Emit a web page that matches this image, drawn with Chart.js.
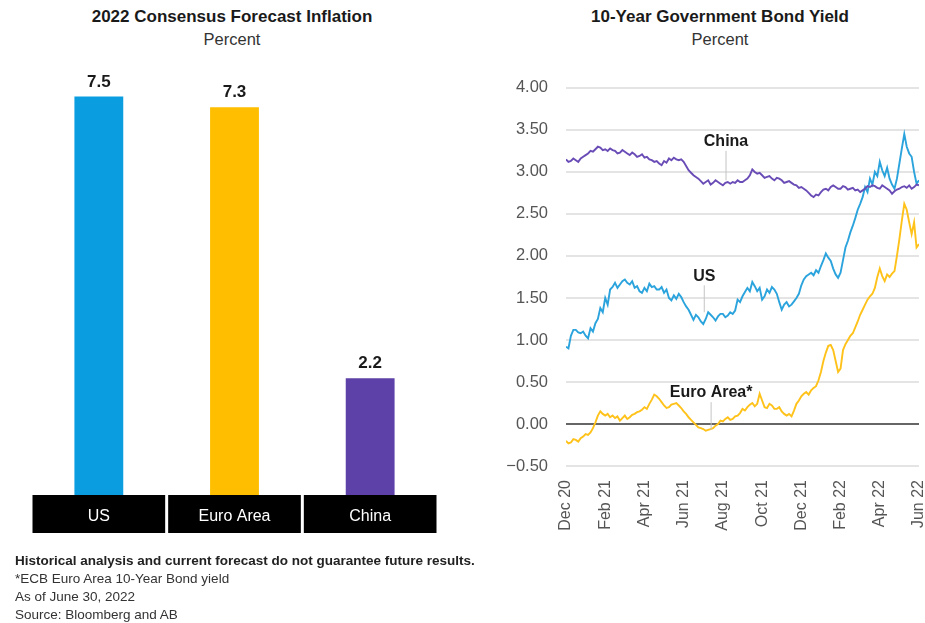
<!DOCTYPE html>
<html>
<head>
<meta charset="utf-8">
<script src="https://cdn.jsdelivr.net/npm/chart.js@4/dist/chart.umd.min.js"></script>
<style>
  body { margin: 0; background: #fff; font-family: "Liberation Sans", Arial, sans-serif; color: #222; }
  #page { position: relative; width: 925px; height: 623px; overflow: hidden; }
  .title { position: absolute; top: 7px; text-align: center; font-weight: bold; font-size: 17px; color: #1a1a1a; }
  .sub { position: absolute; top: 30px; text-align: center; font-size: 16.5px; color: #333; }
  #left { position: absolute; left: 0; top: 0; width: 470px; height: 545px; }
  #right { position: absolute; left: 470px; top: 60px; width: 455px; height: 500px; }
  .foot { position: absolute; left: 15px; top: 552px; font-size: 13.5px; line-height: 18px; color: #333; }
  .foot b { color: #222; }
</style>
</head>
<body>
<div id="page">
  <div class="title" style="left:0;width:464px">2022 Consensus Forecast Inflation</div>
  <div class="sub" style="left:0;width:464px">Percent</div>
  <div class="title" style="left:500px;width:440px">10-Year Government Bond Yield</div>
  <div class="sub" style="left:500px;width:440px">Percent</div>

  <div id="left"><canvas id="barChart"></canvas></div>
  <div id="right"><canvas id="lineChart"></canvas></div>

  <div class="foot">
    <b>Historical analysis and current forecast do not guarantee future results.</b><br>
    *ECB Euro Area 10-Year Bond yield<br>
    As of June 30, 2022<br>
    Source: Bloomberg and AB
  </div>
</div>

<script>
// left panel
const countries = ['US', 'Euro Area', 'China'];
const inflation = [7.5, 7.3, 2.2];

// right panel: readings 8 per month (one row = one month), Dec 20 .. Jun 22
const tickLabels = ['Dec 20', 'Feb 21', 'Apr 21', 'Jun 21', 'Aug 21', 'Oct 21', 'Dec 21', 'Feb 22', 'Apr 22', 'Jun 22'];

const chinaYield = [
  3.15, 3.12, 3.13, 3.16, 3.14, 3.12, 3.16, 3.18,
  3.20, 3.22, 3.25, 3.24, 3.27, 3.30, 3.29, 3.26,
  3.27, 3.25, 3.28, 3.26, 3.25, 3.22, 3.23, 3.26,
  3.24, 3.22, 3.20, 3.23, 3.21, 3.18, 3.19, 3.21,
  3.17, 3.18, 3.15, 3.14, 3.12, 3.13, 3.10, 3.08,
  3.13, 3.11, 3.16, 3.14, 3.17, 3.15, 3.14, 3.15,
  3.12, 3.07, 3.02, 2.99, 2.96, 2.94, 2.92, 2.89,
  2.86, 2.88, 2.90, 2.85, 2.87, 2.90, 2.88, 2.86,
  2.84, 2.87, 2.88, 2.86, 2.88, 2.87, 2.90, 2.88,
  2.88, 2.90, 2.92, 2.96, 3.03, 3.00, 2.98, 2.99,
  2.96, 2.93, 2.94, 2.95, 2.92, 2.90, 2.93, 2.92,
  2.90, 2.87, 2.88, 2.89, 2.87, 2.85, 2.84, 2.81,
  2.82, 2.80, 2.78, 2.75, 2.72, 2.70, 2.73, 2.72,
  2.76, 2.79, 2.80, 2.78, 2.82, 2.84, 2.82, 2.80,
  2.80, 2.83, 2.82, 2.79, 2.80, 2.81, 2.78, 2.79,
  2.76, 2.78, 2.80, 2.83, 2.82, 2.84, 2.83, 2.81,
  2.80, 2.84, 2.82, 2.80, 2.78, 2.74, 2.77, 2.79,
  2.80, 2.82, 2.83, 2.81, 2.84, 2.80, 2.82, 2.85,
  2.84
];

const usYield = [
  0.92, 0.90, 1.05, 1.12, 1.12, 1.09, 1.08, 1.10,
  1.05, 1.02, 1.14, 1.10, 1.20, 1.25, 1.38, 1.33,
  1.50, 1.42, 1.60, 1.63, 1.68, 1.62, 1.66, 1.70,
  1.72, 1.68, 1.66, 1.70, 1.62, 1.64, 1.58, 1.56,
  1.62, 1.58, 1.67, 1.63, 1.64, 1.60, 1.60, 1.63,
  1.56, 1.60, 1.50, 1.47, 1.53, 1.49, 1.55, 1.51,
  1.45, 1.40, 1.36, 1.30, 1.24, 1.30, 1.27, 1.22,
  1.19, 1.25, 1.33, 1.30, 1.27, 1.23, 1.28, 1.31,
  1.31, 1.27, 1.29, 1.33, 1.31, 1.35, 1.48, 1.45,
  1.52, 1.57, 1.62, 1.58, 1.69, 1.64, 1.58, 1.62,
  1.48, 1.52, 1.60, 1.56, 1.63, 1.60, 1.55, 1.45,
  1.36, 1.42, 1.45, 1.40, 1.42, 1.46, 1.50, 1.55,
  1.65, 1.72, 1.76, 1.78, 1.80, 1.77, 1.83, 1.80,
  1.88, 1.95, 2.03, 1.98, 1.94, 1.85, 1.78, 1.74,
  1.80, 1.95, 2.10, 2.18, 2.28, 2.36, 2.45, 2.55,
  2.62, 2.70, 2.82, 2.76, 2.92, 2.85, 3.00, 2.95,
  3.12, 3.02, 2.95, 3.05, 2.92, 2.85, 2.80, 2.92,
  3.10, 3.28, 3.45, 3.30, 3.22, 3.18, 3.00, 2.86,
  2.90
];

const euroYield = [
  -0.20, -0.23, -0.22, -0.18, -0.19, -0.21, -0.17, -0.15,
  -0.12, -0.13, -0.10, -0.05, 0.02, 0.10, 0.15, 0.12,
  0.10, 0.12, 0.08, 0.10, 0.07, 0.09, 0.04, 0.07,
  0.10, 0.06, 0.08, 0.11, 0.12, 0.14, 0.15, 0.17,
  0.20, 0.18, 0.24, 0.29, 0.35, 0.33, 0.30, 0.26,
  0.22, 0.19, 0.20, 0.23, 0.24, 0.25, 0.22, 0.19,
  0.15, 0.12, 0.08, 0.05, 0.02, -0.01, -0.04, -0.05,
  -0.06, -0.08, -0.07, -0.06, -0.05, -0.02, 0.00, 0.04,
  0.03, 0.06, 0.08, 0.05, 0.06, 0.09, 0.10, 0.13,
  0.18, 0.16, 0.20, 0.23, 0.25, 0.21, 0.24, 0.36,
  0.28, 0.20, 0.19, 0.24, 0.22, 0.18, 0.18, 0.20,
  0.15, 0.12, 0.10, 0.12, 0.09, 0.16, 0.24, 0.28,
  0.33, 0.36, 0.38, 0.35, 0.40, 0.43, 0.45, 0.52,
  0.62, 0.75, 0.85, 0.93, 0.94, 0.88, 0.75, 0.62,
  0.66, 0.88, 0.95, 1.00, 1.05, 1.08, 1.15, 1.22,
  1.30, 1.36, 1.42, 1.48, 1.52, 1.55, 1.62, 1.75,
  1.85, 1.76, 1.70, 1.78, 1.75, 1.79, 1.82, 2.00,
  2.20, 2.42, 2.62, 2.55, 2.40, 2.26, 2.40, 2.10,
  2.14
];

const PER_MONTH = 8;
const toPoints = arr => arr.map((v, i) => ({ x: i / PER_MONTH, y: v }));

const BLUE = '#0a9de0', GOLD = '#ffbe00', PURPLE = '#5d41a9';
const FONT = '"Liberation Sans", Arial, sans-serif';
Chart.defaults.font.family = FONT;

// black label boxes under the bars
const boxPlugin = {
  id: 'boxes',
  beforeDraw(chart) {
    const { ctx, scales: { x } } = chart;
    const n = chart.data.labels.length;
    const w = (x.right - x.left) / n;
    ctx.save();
    ctx.fillStyle = '#000';
    for (let i = 0; i < n; i++) {
      ctx.fillRect(x.left + i * w + 1.5, x.top, w - 3, 38);
    }
    ctx.restore();
  }
};

const valuePlugin = {
  id: 'values',
  afterDatasetsDraw(chart) {
    const { ctx } = chart;
    ctx.save();
    ctx.font = 'bold 17px ' + FONT;
    ctx.fillStyle = '#1a1a1a';
    ctx.textAlign = 'center';
    ctx.textBaseline = 'bottom';
    chart.getDatasetMeta(0).data.forEach((bar, i) => {
      ctx.fillText(inflation[i].toFixed(1), bar.x, bar.y - 6);
    });
    ctx.restore();
  }
};

new Chart(document.getElementById('barChart'), {
  type: 'bar',
  data: {
    labels: countries,
    datasets: [{
      data: inflation,
      backgroundColor: [BLUE, GOLD, PURPLE],
      barPercentage: 0.36,
      categoryPercentage: 1
    }]
  },
  options: {
    responsive: true,
    maintainAspectRatio: false,
    animation: false,
    layout: { padding: { left: 31, right: 32, top: 70, bottom: 12 } },
    plugins: { legend: { display: false }, tooltip: { enabled: false } },
    scales: {
      x: {
        grid: { display: false },
        border: { display: false },
        ticks: { color: '#fff', font: { size: 16 }, padding: 4 },
        afterFit(s) { s.height = 38; }
      },
      y: { display: false, min: 0, max: 8 }
    }
  },
  plugins: [boxPlugin, valuePlugin]
});

// series names with leader lines, placed in data units
const seriesNotes = [
  { text: 'China', x: 8.16, y: 3.36, from: 3.25, to: 2.90 },
  { text: 'US', x: 7.05, y: 1.76, from: 1.65, to: 1.33 },
  { text: 'Euro Area*', x: 7.4, y: 0.37, from: 0.26, to: -0.07 }
];

const notePlugin = {
  id: 'notes',
  afterDatasetsDraw(chart) {
    const { ctx, scales: { x, y } } = chart;
    ctx.save();
    seriesNotes.forEach(n => {
      const px = x.getPixelForValue(n.x);
      ctx.strokeStyle = '#c4c4c4';
      ctx.lineWidth = 1;
      ctx.beginPath();
      ctx.moveTo(px, y.getPixelForValue(n.from));
      ctx.lineTo(px, y.getPixelForValue(n.to));
      ctx.stroke();
      ctx.font = 'bold 16px ' + FONT;
      ctx.fillStyle = '#1a1a1a';
      ctx.textAlign = 'center';
      ctx.textBaseline = 'middle';
      ctx.fillText(n.text, px, y.getPixelForValue(n.y));
    });
    ctx.restore();
  }
};

const lineStyle = color => ({
  borderColor: color,
  borderWidth: 1.9,
  pointRadius: 0,
  tension: 0,
  fill: false
});

new Chart(document.getElementById('lineChart'), {
  type: 'line',
  data: {
    datasets: [
      { label: 'China', data: toPoints(chinaYield), ...lineStyle('#6a4cb6') },
      { label: 'US', data: toPoints(usYield), ...lineStyle('#2ba3dc') },
      { label: 'Euro Area*', data: toPoints(euroYield), ...lineStyle('#ffc21a') }
    ]
  },
  options: {
    responsive: true,
    maintainAspectRatio: false,
    animation: false,
    layout: { padding: { left: 0, right: 6, top: 25, bottom: 0 } },
    plugins: { legend: { display: false }, tooltip: { enabled: false } },
    scales: {
      x: {
        type: 'linear',
        min: 0,
        max: 18,
        grid: { display: false },
        border: { display: false },
        ticks: {
          stepSize: 2,
          minRotation: 90,
          maxRotation: 90,
          color: '#555',
          font: { size: 16 },
          padding: 6,
          callback: v => tickLabels[v / 2]
        },
        afterFit(s) {
          s.height = 94;
          s.paddingLeft = 0;
          s.paddingRight = 0;
        }
      },
      y: {
        min: -0.5,
        max: 4,
        border: { display: false },
        grid: {
          drawTicks: false,
          lineWidth: 2,
          color: c => c.tick && c.tick.value === 0 ? '#666' : '#e4e4e4'
        },
        ticks: {
          stepSize: 0.5,
          color: '#555',
          font: { size: 16.5 },
          padding: 18,
          callback: v => (v < 0 ? '\u2212' : '') + Math.abs(v).toFixed(2)
        },
        afterFit(s) { s.width = 96; }
      }
    }
  },
  plugins: [notePlugin]
});
</script>
</body>
</html>
